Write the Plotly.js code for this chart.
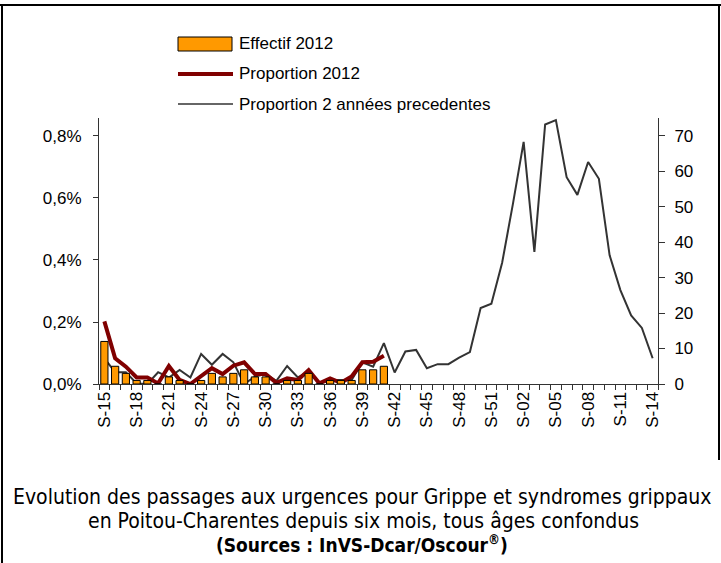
<!DOCTYPE html>
<html>
<head>
<meta charset="utf-8">
<script src="https://cdn.plot.ly/plotly-3.0.1.min.js"></script>
<style>html,body{margin:0;padding:0;background:#fff;}#chart{width:721px;height:563px;}</style>
</head>
<body>
<div id="chart"></div>
<script>
// Weeks S-15 (2012) to S-14 (2013)
const weeks = ["S-15","S-16","S-17","S-18","S-19","S-20","S-21","S-22","S-23","S-24","S-25","S-26","S-27","S-28","S-29","S-30","S-31","S-32","S-33","S-34","S-35","S-36","S-37","S-38","S-39","S-40","S-41","S-42","S-43","S-44","S-45","S-46","S-47","S-48","S-49","S-50","S-51","S-52","S-01","S-02","S-03","S-04","S-05","S-06","S-07","S-08","S-09","S-10","S-11","S-12","S-13","S-14"];
const tickLabels = ["S-15","S-18","S-21","S-24","S-27","S-30","S-33","S-36","S-39","S-42","S-45","S-48","S-51","S-02","S-05","S-08","S-11","S-14"];

// Effectif 2012 (right axis, count)
const effectif2012 = [12,5,3,1,1,0,2,1,0,1,3,2,3,4,2,2,0,1,1,3,0,1,1,1,4,4,5];
// Proportion 2012 (left axis, %)
const proportion2012 = [0.202,0.083,0.056,0.021,0.021,0.002,0.058,0.013,0.0,0.024,0.051,0.032,0.059,0.070,0.032,0.032,0.004,0.018,0.013,0.045,0.002,0.018,0.004,0.024,0.070,0.072,0.091];
// Proportion 2 années précédentes (left axis, %)
const proportionPrev = [0.083,0.038,0.038,0.002,0,0.038,0.021,0.045,0.021,0.097,0.062,0.097,0.070,0,0.024,0.032,0.010,0.058,0.021,0.040,0,0.013,0.013,0.013,0.070,0.056,0.132,0.037,0.105,0.110,0.051,0.064,0.064,0.085,0.103,0.245,0.259,0.391,0.58,0.781,0.426,0.837,0.851,0.667,0.610,0.716,0.662,0.415,0.303,0.221,0.181,0.083];

const seriesNames = ["Effectif 2012","Proportion 2012","Proportion 2 années precedentes"];
const colBar = '#FF9900', colRed = '#800000', colGray = '#333333';

const traces = [
  {type:'bar', name:seriesNames[0], x:weeks.slice(0,effectif2012.length), y:effectif2012, yaxis:'y2',
   marker:{color:colBar, line:{color:'#000', width:1}}},
  {type:'scatter', mode:'lines', name:seriesNames[2], x:weeks, y:proportionPrev,
   line:{color:colGray, width:2}},
  {type:'scatter', mode:'lines', name:seriesNames[1], x:weeks.slice(0,proportion2012.length), y:proportion2012,
   line:{color:colRed, width:4}}
];
const fontMain = 'Liberation Sans, Arial, sans-serif';
const titleFont = 'DejaVu Sans Condensed, Liberation Sans Narrow, Arial Narrow, sans-serif';
const py = p => (384 - p) / 266;
const px = p => (p - 99) / 559;

// manual legend (symbol geometry in pixels)
const legY = [44, 74, 104];
const legShapes = [
  {type:'rect', xref:'paper', yref:'paper', x0:px(178), x1:px(232), y0:py(51), y1:py(37),
   fillcolor:colBar, line:{color:'#000', width:1}},
  {type:'line', xref:'paper', yref:'paper', x0:px(178), x1:px(233), y0:py(legY[1]), y1:py(legY[1]),
   line:{color:colRed, width:4}},
  {type:'line', xref:'paper', yref:'paper', x0:px(178), x1:px(233), y0:py(legY[2]), y1:py(legY[2]),
   line:{color:colGray, width:1.5}}
];
const legAnn = seriesNames.map((n,i) => ({xref:'paper', yref:'paper', x:px(237), y:py(legY[i]),
   xanchor:'left', yanchor:'middle', showarrow:false, text:n, font:{family:fontMain, size:17, color:'#000'}}));

const layout = {
  width:721, height:563,
  margin:{l:99, r:63, t:118, b:179},
  paper_bgcolor:'#fff', plot_bgcolor:'#fff',
  font:{family:fontMain, size:17, color:'#000'},
  showlegend:false,
  bargap:0.33,
  xaxis:{type:'category', categoryorder:'array', categoryarray:weeks,
         tickmode:'array', tickvals:weeks, ticktext:weeks.map(w => tickLabels.includes(w) ? w : ' '),
         tickson:'boundaries', ticks:'outside', ticklen:5, tickcolor:'#333', tickangle:-90,
         showline:true, linecolor:'#333', linewidth:1, showgrid:false, zeroline:false,
         tickfont:{size:17, family:fontMain}, range:[-0.5, 51.5]},
  yaxis:{range:[0, 0.858], tickvals:[0,0.2,0.4,0.6,0.8], ticktext:['0,0%','0,2%','0,4%','0,6%','0,8%'],
         showline:true, linecolor:'#333', linewidth:1, ticks:'outside', ticklen:5, tickcolor:'#333',
         showgrid:false, zeroline:false, tickfont:{size:17, family:fontMain}, ticklabelstandoff:8},
  yaxis2:{overlaying:'y', side:'right', range:[0,75], tickvals:[0,10,20,30,40,50,60,70],
          showline:true, linecolor:'#333', linewidth:1, ticks:'outside', ticklen:6, tickcolor:'#333',
          showgrid:false, zeroline:false, tickfont:{size:17, family:fontMain}, ticklabelstandoff:6},
  annotations:legAnn.concat([
    {xref:'paper', yref:'paper', x:px(362), y:py(497), xanchor:'center', yanchor:'middle', showarrow:false,
     text:'Evolution des passages aux urgences pour Grippe et syndromes grippaux', font:{family:titleFont, size:21, color:'#000'}},
    {xref:'paper', yref:'paper', x:px(363), y:py(521), xanchor:'center', yanchor:'middle', showarrow:false,
     text:'en Poitou-Charentes depuis six mois, tous âges confondus', font:{family:titleFont, size:21, color:'#000'}},
    {xref:'paper', yref:'paper', x:px(362), y:py(544), xanchor:'center', yanchor:'middle', showarrow:false,
     text:'<b>(Sources : InVS-Dcar/Oscour<sup>®</sup>)</b>', font:{family:titleFont, size:19, color:'#000'}}
  ]),
  shapes:legShapes.concat([
    {type:'line', xref:'paper', yref:'paper', x0:px(0), x1:px(721), y0:py(5), y1:py(5), line:{color:'#000', width:2}},
    {type:'line', xref:'paper', yref:'paper', x0:px(2), x1:px(2), y0:py(5), y1:py(563), line:{color:'#000', width:2}},
    {type:'line', xref:'paper', yref:'paper', x0:px(719), x1:px(719), y0:py(5), y1:py(460), line:{color:'#000', width:2}}
  ])
};
Plotly.newPlot('chart', traces, layout, {displayModeBar:false, staticPlot:true});
</script>
</body>
</html>
